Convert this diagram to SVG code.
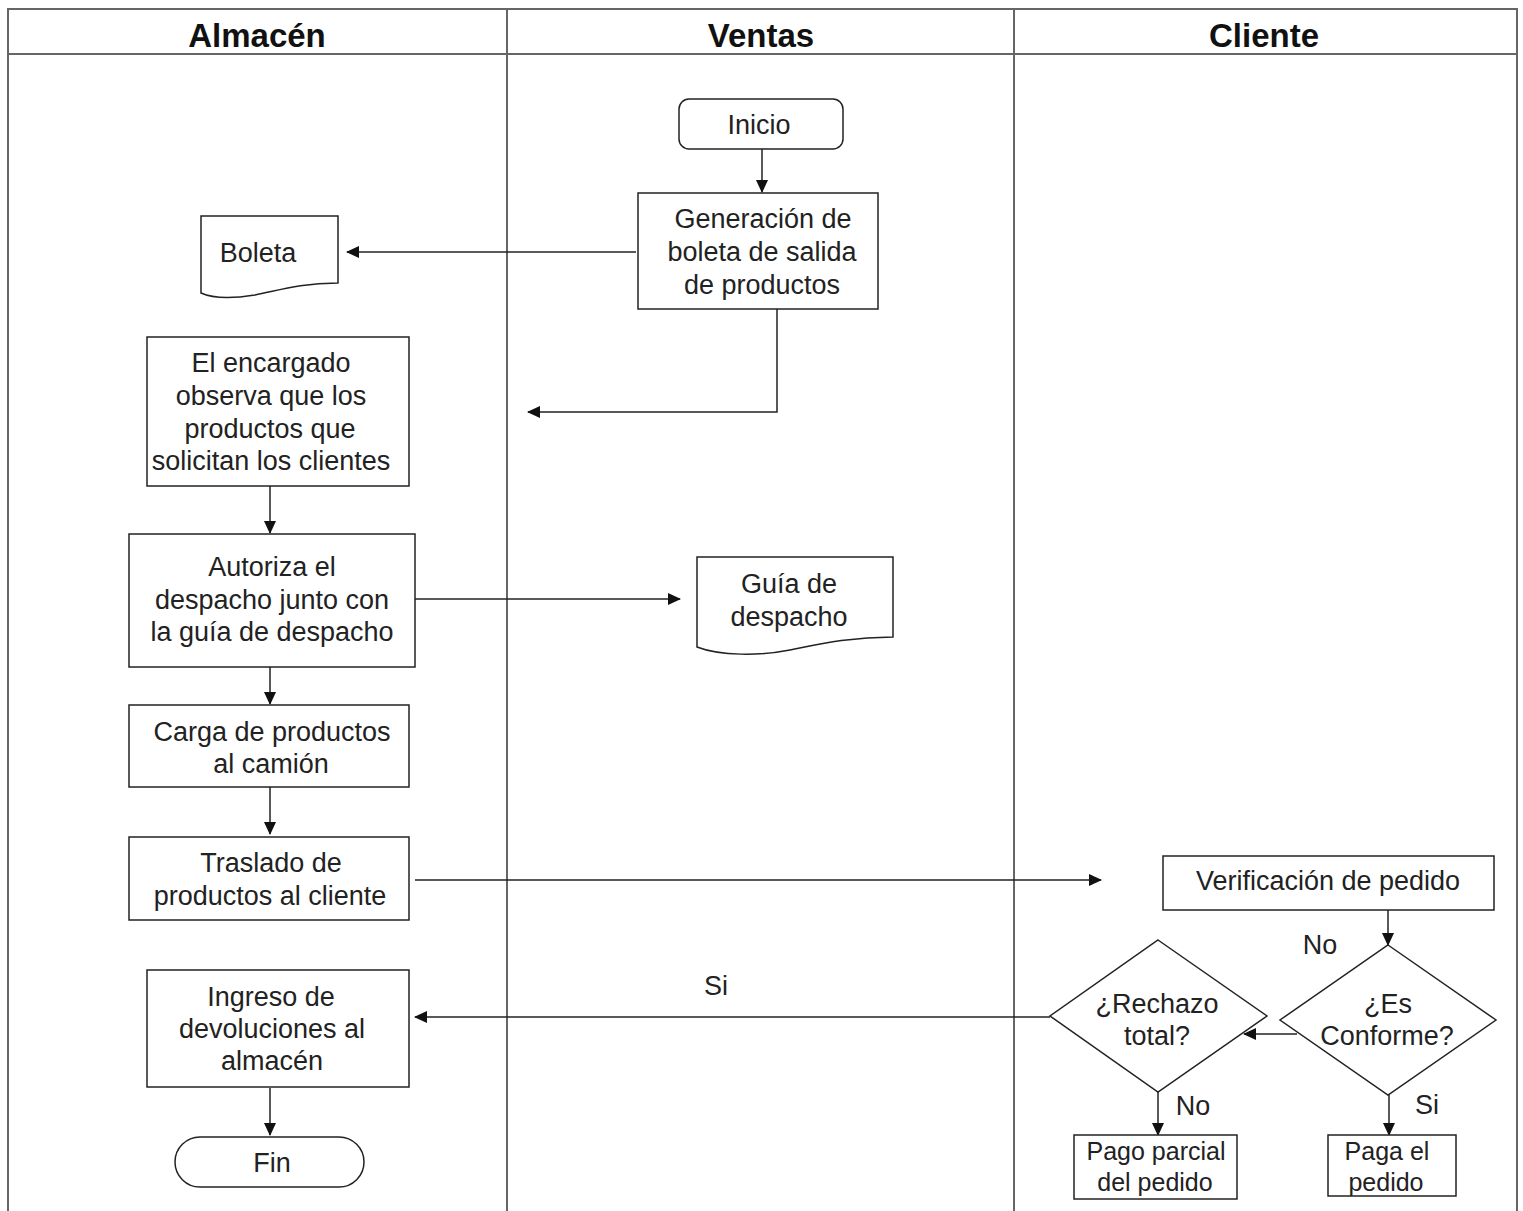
<svg xmlns="http://www.w3.org/2000/svg" width="1523" height="1211" viewBox="0 0 1523 1211">
<style>
.lane{fill:none;stroke:#666;stroke-width:2}
.hdr{font-family:"Liberation Sans",Arial,sans-serif;font-weight:bold;font-size:33px;fill:#111;text-anchor:middle}
.shape{fill:#fff;stroke:#222;stroke-width:1.5}
.t{font-family:"Liberation Sans",Arial,sans-serif;font-size:27px;fill:#222;text-anchor:middle}
.s{font-family:"Liberation Sans",Arial,sans-serif;font-size:25px;fill:#222;text-anchor:middle}
.c{fill:none;stroke:#222;stroke-width:1.5;marker-end:url(#ah)}
</style>
<defs>
<marker id="ah" markerWidth="13" markerHeight="12" refX="12" refY="6" orient="auto" markerUnits="userSpaceOnUse">
<path d="M0,0 L13,6 L0,12 Z" fill="#111"/>
</marker>
</defs>
<rect width="1523" height="1211" fill="#fff"/>
<g id="lanes">
<path class="lane" d="M8,1211 V9 H1517 V1211"/>
<path class="lane" d="M8,54 H1517"/>
<path class="lane" d="M507,9 V1211"/>
<path class="lane" d="M1014,9 V1211"/>
<text class="hdr" x="257" y="47">Almacén</text>
<text class="hdr" x="761" y="47">Ventas</text>
<text class="hdr" x="1264" y="47">Cliente</text>
</g>
<g id="connectors">
<path class="c" d="M762,149 V192"/>
<path class="c" d="M636,252 H347"/>
<path class="c" d="M777,309 V412 H528"/>
<path class="c" d="M270,486 V533"/>
<path class="c" d="M415,599 H680"/>
<path class="c" d="M270,667 V704"/>
<path class="c" d="M270,787 V834"/>
<path class="c" d="M415,880 H1101"/>
<path class="c" d="M1388,910 V945"/>
<path class="c" d="M1297,1034 H1244"/>
<path class="c" d="M1050,1017 H415"/>
<path class="c" d="M270,1088 V1135"/>
<path class="c" d="M1158,1092 V1135"/>
<path class="c" d="M1389,1095 V1135"/>
<text class="t" x="716" y="995">Si</text>
<text class="t" x="1320" y="954">No</text>
<text class="t" x="1193" y="1115">No</text>
<text class="t" x="1427" y="1114">Si</text>
</g>
<g id="inicio">
<rect class="shape" x="679" y="99" width="164" height="50" rx="10"/>
<text class="t" x="759" y="134">Inicio</text>
</g>
<g id="generacion">
<rect class="shape" x="638" y="193" width="240" height="116"/>
<text class="t" x="763" y="228">Generación de</text>
<text class="t" x="762" y="261">boleta de salida</text>
<text class="t" x="762" y="294">de productos</text>
</g>
<g id="boleta">
<path class="shape" d="M201,216 H338 V283 C300,283 280,290 255,295 C230,299 212,298 201,293 Z"/>
<text class="t" x="258" y="262">Boleta</text>
</g>
<g id="encargado">
<rect class="shape" x="147" y="337" width="262" height="149"/>
<text class="t" x="271" y="372">El encargado</text>
<text class="t" x="271" y="405">observa que los</text>
<text class="t" x="270" y="438">productos que</text>
<text class="t" x="271" y="470">solicitan los clientes</text>
</g>
<g id="autoriza">
<rect class="shape" x="129" y="534" width="286" height="133"/>
<text class="t" x="272" y="576">Autoriza el</text>
<text class="t" x="272" y="609">despacho junto con</text>
<text class="t" x="272" y="641">la guía de despacho</text>
</g>
<g id="guia">
<path class="shape" d="M697,557 H893 V637 C850,637 820,644 790,650 C760,656 720,656 697,647 Z"/>
<text class="t" x="789" y="593">Guía de</text>
<text class="t" x="789" y="626">despacho</text>
</g>
<g id="carga">
<rect class="shape" x="129" y="705" width="280" height="82"/>
<text class="t" x="272" y="741">Carga de productos</text>
<text class="t" x="271" y="773">al camión</text>
</g>
<g id="traslado">
<rect class="shape" x="129" y="837" width="280" height="83"/>
<text class="t" x="271" y="872">Traslado de</text>
<text class="t" x="270" y="905">productos al cliente</text>
</g>
<g id="verificacion">
<rect class="shape" x="1163" y="856" width="331" height="54"/>
<text class="t" x="1328" y="890">Verificación de pedido</text>
</g>
<g id="conforme">
<path class="shape" d="M1388,945 L1496,1020 L1388,1095 L1280,1020 Z"/>
<text class="t" x="1388" y="1013">¿Es</text>
<text class="t" x="1387" y="1045">Conforme?</text>
</g>
<g id="rechazo">
<path class="shape" d="M1158,940 L1267,1016 L1158,1092 L1050,1016 Z"/>
<text class="t" x="1157" y="1013">¿Rechazo</text>
<text class="t" x="1157" y="1045">total?</text>
</g>
<g id="ingreso">
<rect class="shape" x="147" y="970" width="262" height="117"/>
<text class="t" x="271" y="1006">Ingreso de</text>
<text class="t" x="272" y="1038">devoluciones al</text>
<text class="t" x="272" y="1070">almacén</text>
</g>
<g id="fin">
<rect class="shape" x="175" y="1137" width="189" height="50" rx="25"/>
<text class="t" x="272" y="1172">Fin</text>
</g>
<g id="pagoparcial">
<rect class="shape" x="1074" y="1135" width="163" height="64"/>
<text class="s" x="1156" y="1160">Pago parcial</text>
<text class="s" x="1155" y="1191">del pedido</text>
</g>
<g id="pagaelpedido">
<rect class="shape" x="1328" y="1135" width="128" height="61"/>
<text class="s" x="1387" y="1160">Paga el</text>
<text class="s" x="1386" y="1191">pedido</text>
</g>
</svg>
